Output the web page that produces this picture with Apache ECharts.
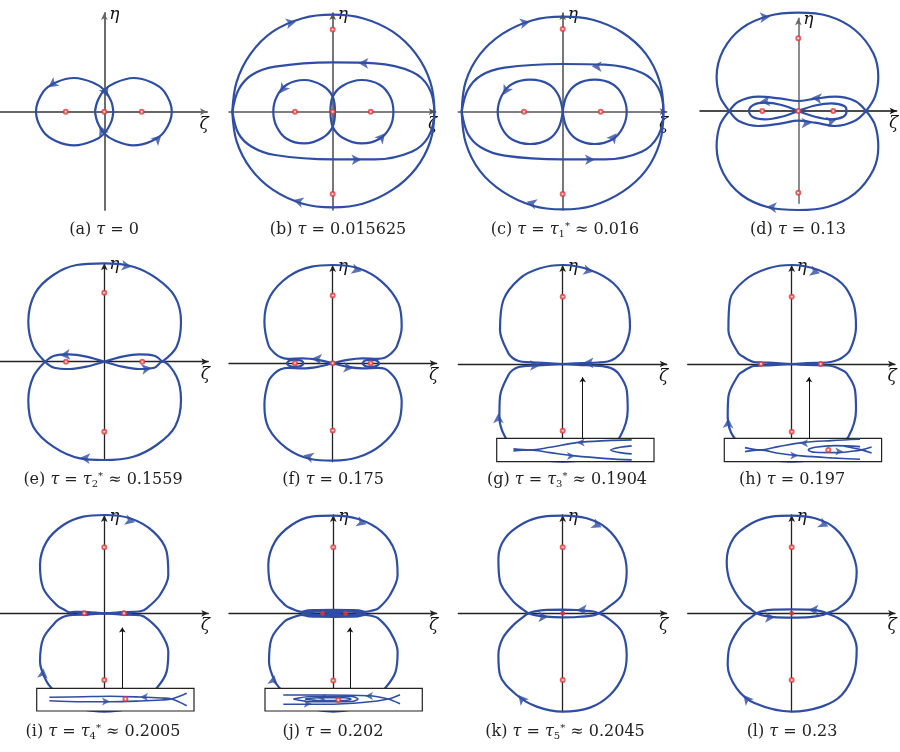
<!DOCTYPE html>
<html>
<head>
<meta charset="utf-8"/>
<title>相图 τ</title>
<script src="https://cdn.jsdelivr.net/npm/echarts@6/dist/echarts.min.js"></script>
<style>html,body{margin:0;background:#fff}#main{width:900px;height:752px}</style>
</head>
<body>
<div id="main"></div>
<script>
// 数据单位：相对原点的像素偏移 (y 向上)
// (a)
var aLeftLoop = [[9,0],[7,10],[0,21.7],[-11,29],[-30,33.7],[-48,29.5],[-61,20],[-68.3,0],[-61,-20],[-48,-29.5],[-30,-33.7],[-11,-29],[0,-21.7],[7,-10],[9,0]];
var aRightLoop = [[-9.3,0],[-7,10],[0,21.7],[11,29],[29,33.7],[47,29.5],[60,20],[67.5,0],[60,-20],[47,-29.5],[29,-33.7],[11,-29],[0,-21.7],[-7,-10],[-9.3,0]];
var aArrows = [[-56,24.5,215],[3.5,15,-65],[-4.5,-14,115],[57,-23.5,45]];
var aDots = [[-38.6,0],[0,0],[37.4,0]];
// (b)
var bOuter = [[-100.4,0],[-96,30],[-82,58],[-60,80],[-30,93.5],[0,97],[30,93.5],[60,80],[83,58],[97.5,30],[101.6,0],[97.5,-30],[83,-57],[60,-78],[30,-92],[0,-95.6],[-30,-92],[-60,-78],[-82,-57],[-96,-30],[-100.4,0]];
var bMiddle = [[-100.3,0],[-94.3,21.7],[-81,36.7],[-57.7,45],[0,49.3],[42.3,48.3],[79,40],[95.7,25],[101.6,0],[95.7,-25],[79,-40],[42.3,-47.7],[0,-47.7],[-57.7,-43.3],[-81,-35],[-94.3,-21.7],[-100.3,0]];
var bLeftLoop = [[2.3,0],[0,15],[-10,26],[-28.5,31.7],[-46,27],[-56,15],[-59.4,0],[-56,-15],[-46,-27],[-28.5,-31.7],[-10,-26],[0,-15],[2.3,0]];
var bRightLoop = [[-2.3,0],[0,15],[10,26],[29,31.7],[47,27],[57.5,15],[60.7,0],[57.5,-15],[47,-27],[29,-31.7],[10,-26],[0,-15],[-2.3,0]];
var bArrows = [[-36.7,90,12],[25.6,48.6,178],[-52.7,18.4,235],[52.3,-21.6,50],[28.9,-47.7,2],[-39.4,-88.3,165]];
var bDots = [[-37.7,0],[0,0],[38,0],[0,82.3],[0,-82.3]];
// (c)
var cOuter = [[-101,0],[-97,30],[-83,57],[-60,78],[-30,91.5],[0,95],[30,92],[60,79],[83,58],[97,30],[100.7,0],[97,-31],[83,-59],[60,-80],[30,-94],[0,-97.7],[-30,-94],[-60,-80],[-83,-59],[-97,-31],[-101,0]];
var cMiddle = [[-101,0],[-95,21.7],[-82,36],[-58,44],[0,47.7],[42,47],[79,39],[95.5,24],[100.7,0],[95.5,-24],[79,-40],[42,-47.7],[0,-47.7],[-58,-44],[-82,-35.5],[-95,-21.7],[-101,0]];
var cLeftLoop = [[0,0],[-4,16],[-14,27.5],[-32.5,32],[-51,27.5],[-61,16],[-65,0],[-61,-16],[-51,-27.5],[-32.5,-32.3],[-14,-27.5],[-4,-16],[0,0]];
var cRightLoop = [[0,0],[4,16],[14,27.5],[32,32],[50,27.5],[60,16],[64,0],[60,-16],[50,-27.5],[32,-32.3],[14,-27.5],[4,-16],[0,0]];
var cArrows = [[-32.7,90,12],[29,45.5,178],[-59.4,16.7,240],[54,-21.6,52],[32.3,-47.7,2],[-36,-90,165]];
var cDots = [[-38.7,0],[38,0],[0,82.7],[0,-82.3]];
// (d)
var dUpperLoop = [[67.8,0],[76.7,14.3],[80,34.3],[75,57.7],[56.7,81],[30,95],[0,98.3],[-30,95],[-56.7,82.7],[-75,61],[-81.7,34.3],[-78.3,14.3],[-69,0],[-60,-9.7],[-40,-15],[-16.7,-12.3],[0,-9.7],[16.7,-11.7],[36.7,-15],[56.7,-9.7],[67.8,0]];
var dLowerLoop = [[-69,0],[-78.3,-14],[-81.7,-35.7],[-75,-62.3],[-56.7,-84],[-30,-96.3],[0,-99],[30,-95.7],[56.7,-82.3],[75,-59],[80,-35.7],[76.7,-14],[67.8,0],[56.7,10],[36.7,14.3],[16.7,12.3],[0,10],[-16.7,12.3],[-40,14.3],[-60,9.3],[-69,0]];
var dFigure8 = [[0,0],[-16.7,6],[-33.3,8.3],[-45,6],[-49.3,0],[-45,-6.3],[-33.3,-8.3],[-16.7,-5.7],[0,0],[16.7,5.5],[33.3,7.7],[46,5],[48.3,0],[45,-5.7],[33.3,-8.3],[16.7,-5.7],[0,0]];
var dArrows = [[-28.3,94.3,5],[13.3,13.3,175],[-38.3,9.3,185],[38.3,-8.5,15],[13.3,-12,0],[-31.7,-95.7,175]];
var dDots = [[-36,0],[0,0],[35,0],[0,72.7],[0,-81.7]];
// (e)
var eUpperLoop = [[58,0],[72.3,15],[76.7,40],[70.7,65],[52.3,83.3],[29,95],[0,98.3],[-27.7,96.7],[-51,86.7],[-69.3,68.3],[-76,40],[-71,15],[-59.3,0],[-50,-6],[-35,-7.3],[-18,-5],[0,0],[18,5],[35,7.3],[50,6],[58,0]];
var eLowerLoop = [[-59.3,0],[-71,-15],[-76,-38.3],[-71,-65],[-51,-85],[-24.3,-96.7],[0,-98.3],[29,-95],[52.3,-83.3],[70.7,-65],[76.7,-38.3],[72.3,-15],[58,0],[50,-6],[35,-7.3],[18,-5],[0,0],[-18,5],[-35,7.3],[-50,6],[-59.3,0]];
var eArrows = [[27.3,95,-8],[-44.3,6.5,185],[47.3,-6,10],[-24.3,-96,175]];
var eDots = [[-38.3,0],[38,0],[0,69],[0,-70]];
// (f)
var fUpperLoop = [[0,0],[-15,3.5],[-30,5],[-45,4.5],[-52,6],[-58,10],[-64.3,18.3],[-68.3,41.7],[-62.7,66.7],[-44.3,86.7],[-21,96.7],[0,98.3],[25.7,95],[49,81.7],[65.7,60],[69,36.7],[64,16.7],[58,9.5],[52,5.5],[45,4.5],[30,5],[15,3.5],[0,0]];
var fLowerLoop = [[0,0],[-15,-3.5],[-30,-5],[-45,-4.5],[-52,-6],[-58,-10],[-64.3,-18.3],[-68.3,-41.7],[-64,-65],[-46,-85],[-22,-95.7],[0,-97.3],[25,-94],[48,-82],[65,-62],[69,-38],[64,-18],[58,-10],[52,-5.5],[45,-4.5],[30,-5],[15,-3.5],[0,0]];
var fLeftCycle = [[-46,0],[-43,2.8],[-37.7,3.5],[-32,2.8],[-29.4,0],[-32,-2.8],[-37.7,-3.5],[-43,-2.8],[-46,0]];
var fRightCycle = [[29.7,0],[32.5,2.8],[38,3.5],[43.5,2.8],[46.3,0],[43.5,-2.8],[38,-3.5],[32.5,-2.8],[29.7,0]];
var fArrows = [[29,92,-15],[-21,4.8,175],[20.7,-4.8,-5],[-29.3,-92,165]];
var fDots = [[-37.7,0],[0,0],[38,0],[0,67.7],[0,-67.3]];
// (g)
var gUpperLoop = [[0,0],[-20,1.2],[-35,1.8],[-44,3],[-50,6],[-54.3,10.7],[-62.7,34],[-59.3,64],[-42.7,85.7],[-22.7,95.7],[0,99],[27.3,94],[50.7,80.7],[64,60.7],[67.3,37.3],[60.7,14],[52,5.5],[45,2.5],[35,1.5],[20,1],[0,0]];
var gLowerLoop = [[0,0],[-20,-1.2],[-35,-1.8],[-44,-3],[-50,-6],[-54.3,-11],[-62.7,-32.7],[-63.3,-52.7],[-57.7,-72.7],[-42.7,-89.3],[-20,-96],[0,-97.7],[20,-96],[40.7,-89.3],[57.3,-72.7],[65,-46],[64,-26],[55.7,-9.3],[48,-4],[40,-2.2],[30,-1.5],[15,-1],[0,0]];
var gArrows = [[30.7,92.3,-12],[20.7,1.2,180],[-22.7,-1.4,0],[-64.3,-49.3,90]];
var gDots = [[0,67.3],[0,-66.7]];
var gPointer = [[20,-74.3],[20,-13.3]];
var gInsetUpper = [[16.7,12.7],[33.3,11.7],[53.3,14.3],[80,19],[110,21],[135,21.7]];
var gInsetLower = [[16.7,10.7],[33.3,11.7],[53.3,9],[78.3,5.7],[110,3],[135,1.7]];
var gInsetCusp = [[135,15.7],[123.3,14.3],[114,11.7],[123.3,9],[135,7.7]];
var gInsetArrows = [[80,19,180],[78.3,5.7,0]];
// (h)
var hUpperLoop = [[0,0],[-15,1],[-30,1.5],[-38,2],[-43,4],[-48,7],[-53.3,10.7],[-63.3,34],[-61.7,64],[-46.7,84],[-23.3,95.7],[0,99],[26.7,94],[50,80.7],[61.7,60.7],[64.3,37.3],[58.3,14],[50,6],[43,3],[35,1.5],[15,1],[0,0]];
var hLowerLoop = [[0,0],[-15,-1],[-30,-1.5],[-38,-2],[-43,-4],[-48,-7],[-53.3,-11],[-63.3,-32.7],[-64,-52.7],[-58.3,-72.7],[-40,-90],[-20,-96],[0,-97.7],[20,-96],[40,-90],[56.7,-72.7],[64.3,-46],[63.3,-26],[55,-9.3],[48,-5],[42,-2.5],[35,-1.5],[15,-1],[0,0]];
var hBlobL = [[-24,0],[-20,0.9],[-16,0],[-20,-0.9],[-24,0]];
var hBlobR = [[16,0],[20,0.9],[24,0],[20,-0.9],[16,0]];
var hArrows = [[28.3,90.7,-15],[-63.3,-54.3,88]];
var hDots = [[-30.7,0],[29,0],[0,67.3],[0,-67.7]];
var hPointer = [[17.3,-74.3],[17.3,-13.3]];
var hInsetUpper = [[20.7,14],[35.7,11.7],[54,15],[77.3,19],[107.3,21],[135.7,22.3]];
var hInsetLower = [[20.7,10],[35.7,11.7],[54,8.3],[77.3,5.7],[107.3,3.7],[135.7,2.3]];
var hInsetLoop = [[135.7,15],[110.7,16],[90.7,14.3],[84,11.7],[90.7,9.3],[110.7,9],[127.3,10.3],[137.3,11.7],[147.3,14.7]];
var hInsetTail = [[120,15.3],[137.3,11.7],[147.3,8.7]];
var hInsetArrows = [[75.7,18.3,180],[74,6,0],[119,10.1,0]];
var hInsetDots = [[104,11.7]];
// (i)
var iUpperLoop = [[0,0],[-15,1],[-25,1.5],[-30,1.5],[-34.3,1],[-40,3.5],[-47.7,8.3],[-61,25],[-64.3,48.3],[-57.7,71.7],[-41,88.3],[-21,96.7],[0,98.3],[25.7,95],[49,81.7],[62.3,61.7],[64,38.3],[55.7,18.3],[42.3,5],[36,2],[30,1.5],[15,1],[0,0]];
var iLowerLoop = [[0,0],[-15,-1],[-30,-1.5],[-36,-2],[-42,-4],[-47.7,-7.7],[-61,-25],[-64.3,-48.3],[-57.7,-68.3],[-48,-80],[-37.7,-90],[-20,-96.5],[0,-98.3],[20,-96.5],[35.7,-90],[52.3,-75],[62.3,-58.3],[64,-38.3],[55.7,-18.3],[42.3,-5],[36,-2],[30,-1.5],[15,-1],[0,0]];
var iBlobL = [[-27,0],[-20,1.4],[-13,0],[-20,-1.4],[-27,0]];
var iBlobR = [[13,0],[19.7,1.4],[26.5,0],[19.7,-1.4],[13,0]];
var iArrows = [[30.7,91,-15],[-61,-55,85]];
var iDots = [[-20,0],[19.7,0],[0,66],[0,-66.7]];
var iPointer = [[18,-75],[18,-14.3]];
var iInsetUpper = [[12.7,13.7],[46.7,14.3],[73.3,14.7],[103.3,14],[125,13],[135,12],[150,5.3]];
var iInsetLower = [[12.7,10.3],[46.7,9.3],[73.3,9.3],[103.3,10],[125,11],[135,12],[150,17.7]];
var iInsetArrows = [[73.3,9.4,0],[103.3,14,180]];
var iInsetDots = [[88.7,12]];
// (j)
var jUpperLoop = [[0,0],[-15,2.5],[-25,3],[-31.7,1.5],[-40,4],[-48.3,8.3],[-61.7,25],[-65,48.3],[-58.3,71.7],[-41.7,88.3],[-21.7,96.7],[0,97.7],[25,94.3],[48.3,81.7],[61.7,61.7],[64.3,38.3],[56.7,18.3],[45,5],[38,2.5],[31.7,1.5],[25,3],[15,2.5],[0,0]];
var jLowerLoop = [[0,0],[-15,-2.5],[-25,-3],[-31.7,-1.5],[-40,-4],[-48.3,-7.7],[-61.7,-25],[-64.3,-48.3],[-58.3,-68.3],[-50,-78.3],[-35,-90],[-18,-96.5],[0,-98.3],[18,-96.5],[35,-90],[51.7,-75],[62.3,-58.3],[64.3,-38.3],[56.7,-18.3],[45,-5],[38,-2.5],[31.7,-1.5],[25,-3],[15,-2.5],[0,0]];
var jLensOuter = [[-31.7,0],[-20,3.2],[0,3.5],[20,3.2],[31.7,0],[20,-3.2],[0,-3.5],[-20,-3.2],[-31.7,0]];
var jLensInner = [[-28,0],[-18,1.6],[0,1.8],[18,1.6],[28,0],[18,-1.6],[0,-1.8],[-18,-1.6],[-28,0]];
var jArrows = [[33.3,89,-18],[-59,-61.7,80]];
var jDots = [[0,66],[0,-67.3]];
var jFilledDots = [[-10.7,0],[12.3,0]];
var jPointer = [[16.7,-75],[16.7,-14.3]];
var jInsetUpper = [[18.3,16],[60,16],[103.3,15.3],[123.3,12],[135,7.3]];
var jInsetLower = [[18.3,6.7],[60,6.7],[100,8.7],[123.3,12],[135,16.3]];
var jInsetLoop1 = [[28.3,12],[46.7,14.5],[86.7,14.5],[93,12],[86.7,9.5],[46.7,9.2],[28.3,12]];
var jInsetLoop2 = [[40,12],[55,13.2],[80,13.2],[86,11.8],[80,10.5],[55,10.5],[40,12]];
var jInsetArrows = [[100,15,180],[46.7,7.2,0],[53,13.1,180]];
var jInsetDots = [[73.3,11]];
// (k)
var kUpperLoop = [[0,-4],[-16,-3.3],[-28,-1.8],[-34.3,0],[-40,4],[-49.3,11.7],[-62.7,31.7],[-64.3,55],[-57.7,75],[-39.3,90],[-19.3,96.7],[0,97.7],[24,95],[44,85],[59,65],[64,41.7],[59,18.3],[44,5],[36,0],[30.7,-2],[14,-3.7],[0,-4]];
var kLowerLoop = [[0,3.7],[-16,3.5],[-28,2],[-34.3,0],[-40,-4],[-49.3,-11.7],[-60,-25],[-64.3,-41.7],[-62.7,-61.7],[-46,-81.7],[-26,-93.3],[0,-98.3],[27.3,-94.3],[47.3,-81.7],[60.7,-61.7],[64,-41.7],[59,-18.3],[44,-4],[36,0],[30.7,1.8],[14,3.3],[0,3.7]];
var kArrows = [[39,86,-25],[14,3.4,180],[-14.3,-3.5,0],[-44.3,-81.7,130]];
var kDots = [[0,66],[0,-66.7]];
var kFilledDots = [[0,0]];
// (l)
var lUpperLoop = [[0,-4.3],[-18,-3.8],[-30,-2],[-35,0],[-40,3.5],[-50,11.7],[-61.7,31.7],[-65,51.7],[-58.3,75],[-40,90],[-20,96.7],[0,97.7],[23.3,95],[43.3,85],[58.3,65],[65,41.7],[60,18.3],[46.7,5],[35,0],[30,-2],[18,-3.8],[0,-4.3]];
var lLowerLoop = [[0,4],[-18,3.6],[-30,2],[-35,0],[-40,-3.5],[-50,-11.7],[-61.7,-31.7],[-64,-51.7],[-55,-75],[-36.7,-90],[0,-98.3],[30,-93.3],[50,-81.7],[62.7,-58.3],[65,-35],[56.7,-13.3],[46.7,-5],[35,0],[30,2],[18,3.6],[0,4]];
var lArrows = [[36.7,86.7,-25],[16.7,3.2,180],[-16.7,-4,0],[-48.3,-81.7,130]];
var lDots = [[0,66],[0,-66.7]];
var lFilledDots = [[0,0]];

var captions = [
    '(a) {i|τ} = 0', '(b) {i|τ} = 0.015625', '(c) {i|τ} = {i|τ}{sub|1}{sup|*} ≈ 0.016', '(d) {i|τ} = 0.13',
    '(e) {i|τ} = {i|τ}{sub|2}{sup|*} ≈ 0.1559', '(f) {i|τ} = 0.175', '(g) {i|τ} = {i|τ}{sub|3}{sup|*} ≈ 0.1904', '(h) {i|τ} = 0.197',
    '(i) {i|τ} = {i|τ}{sub|4}{sup|*} ≈ 0.2005', '(j) {i|τ} = 0.202', '(k) {i|τ} = {i|τ}{sub|5}{sup|*} ≈ 0.2045', '(l) {i|τ} = 0.23'
];

var BLUE = '#2f4ea3', RED = '#e0393b';

// 布局：原点、坐标轴两端（像素）
var panels = [
    {ox: 104.3, oy: 111.7, xL: 0, xR: 207, yT: 13, yB: 210, ax: '#666', ay: '#666', aw: 1.9, cap: [104, 230],
        curves: [aLeftLoop, aRightLoop], arrows: aArrows, dots: aDots},
    {ox: 332.7, oy: 111.7, xL: 229, xR: 435.7, yT: 13, yB: 210, ax: '#555', ay: '#555', aw: 1.6, cap: [338, 230],
        curves: [bOuter, bMiddle, bLeftLoop, bRightLoop], arrows: bArrows, dots: bDots},
    {ox: 562.7, oy: 111.7, xL: 458.3, xR: 666.7, yT: 13, yB: 210, ax: '#555', ay: '#555', aw: 1.6, cap: [565, 230],
        curves: [cOuter, cMiddle, cLeftLoop, cRightLoop], arrows: cArrows, dots: cDots},
    {ox: 798.3, oy: 111, xL: 700, xR: 896.7, yT: 18.3, yB: 203.3, ax: '#111', ay: '#666', aw: 1.5, cap: [798, 230],
        curves: [dUpperLoop, dLowerLoop, dFigure8], arrows: dArrows, dots: dDots},
    {ox: 104.3, oy: 361.7, xL: 0, xR: 208.3, yT: 263.3, yB: 460, ax: '#222', ay: '#222', aw: 1.3, cap: [103, 480],
        curves: [eUpperLoop, eLowerLoop], arrows: eArrows, dots: eDots},
    {ox: 332.7, oy: 363.3, xL: 229, xR: 436.7, yT: 265, yB: 461.7, ax: '#222', ay: '#222', aw: 1.3, cap: [333, 480],
        curves: [fUpperLoop, fLowerLoop, fLeftCycle, fRightCycle], arrows: fArrows, dots: fDots},
    {ox: 562.7, oy: 364, xL: 458.3, xR: 666.7, yT: 265, yB: 438.3, ax: '#222', ay: '#222', aw: 1.3, cap: [567, 480],
        curves: [gUpperLoop, gLowerLoop], arrows: gArrows, dots: gDots, pointer: gPointer,
        inset: {x: 496.7, y: 438.3, w: 157.3, h: 23.3, curves: [gInsetUpper, gInsetLower, gInsetCusp], arrows: gInsetArrows, dots: []}},
    {ox: 791.7, oy: 364, xL: 687.7, xR: 895, yT: 265, yB: 438.3, ax: '#222', ay: '#222', aw: 1.3, cap: [792, 480],
        curves: [hUpperLoop, hLowerLoop, hBlobL, hBlobR], arrows: hArrows, dots: hDots, pointer: hPointer,
        inset: {x: 724.3, y: 438.3, w: 157.3, h: 23.3, curves: [hInsetUpper, hInsetLower, hInsetLoop, hInsetTail], arrows: hInsetArrows, dots: hInsetDots}},
    {ox: 104.3, oy: 613.3, xL: 0, xR: 208.3, yT: 515, yB: 688.3, ax: '#222', ay: '#222', aw: 1.3, cap: [103, 732],
        curves: [iUpperLoop, iLowerLoop, iBlobL, iBlobR], arrows: iArrows, dots: iDots, pointer: iPointer,
        inset: {x: 36.7, y: 688.3, w: 157.3, h: 22.7, curves: [iInsetUpper, iInsetLower], arrows: iInsetArrows, dots: iInsetDots}},
    {ox: 333.3, oy: 613.3, xL: 229, xR: 436.7, yT: 515, yB: 688.3, ax: '#222', ay: '#222', aw: 1.3, cap: [333, 732],
        curves: [jUpperLoop, jLowerLoop, jLensOuter, jLensInner], arrows: jArrows, dots: jDots, filled: jFilledDots, pointer: jPointer,
        inset: {x: 265, y: 688.3, w: 157.3, h: 22.7, curves: [jInsetUpper, jInsetLower, jInsetLoop1, jInsetLoop2], arrows: jInsetArrows, dots: jInsetDots}},
    {ox: 562.7, oy: 613.3, xL: 458.3, xR: 666.7, yT: 515, yB: 711.7, ax: '#222', ay: '#222', aw: 1.3, cap: [565, 732],
        curves: [kUpperLoop, kLowerLoop], arrows: kArrows, dots: kDots, filled: kFilledDots},
    {ox: 791.7, oy: 613.3, xL: 687.7, xR: 895, yT: 515, yB: 711.7, ax: '#222', ay: '#222', aw: 1.3, cap: [792, 732],
        curves: [lUpperLoop, lLowerLoop], arrows: lArrows, dots: lDots, filled: lFilledDots}
];

var chart = echarts.init(document.getElementById('main'));
var option = {animation: false, backgroundColor: '#fff', grid: [], xAxis: [], yAxis: [], series: [], graphic: []};

function curveSeries(data, gi, z) {
    return {type: 'line', xAxisIndex: gi, yAxisIndex: gi, data: data, smooth: 0.35, showSymbol: false, symbol: 'none',
        clip: false, silent: true, z: z, lineStyle: {color: BLUE, width: 2.2}};
}
function arrowSeries(list, gi, z) {
    return {type: 'scatter', xAxisIndex: gi, yAxisIndex: gi, symbol: 'arrow', symbolSize: [8, 10], clip: false, silent: true, z: z,
        itemStyle: {color: BLUE},
        data: list.map(function (a) { return {value: [a[0], a[1]], symbolRotate: a[2] - 90}; })};
}
function dotSeries(list, gi, z, filled) {
    return {type: 'scatter', xAxisIndex: gi, yAxisIndex: gi, symbol: filled ? 'circle' : 'emptyCircle', symbolSize: 4,
        clip: false, silent: true, z: z, itemStyle: {color: RED, borderColor: RED, borderWidth: 1}, data: list};
}
function axisLine(color, width) {
    return {onZero: true, symbol: ['none', 'arrow'], symbolSize: [5, 7], lineStyle: {color: color, width: width}};
}
var nameStyle = {fontFamily: 'DejaVu Serif', fontStyle: 'italic', fontSize: 17, color: '#111'};

panels.forEach(function (p, k) {
    var gi = option.grid.length;
    option.grid.push({left: p.xL, top: p.yT, width: p.xR - p.xL, height: p.yB - p.yT});
    option.xAxis.push({gridIndex: gi, type: 'value', min: p.xL - p.ox, max: p.xR - p.ox,
        axisLine: axisLine(p.ax, p.aw), axisTick: {show: false}, axisLabel: {show: false}, splitLine: {show: false},
        name: 'ζ', nameLocation: 'end', nameGap: -3,
        nameTextStyle: Object.assign({align: 'center', verticalAlign: 'top', padding: [4, 0, 0, 0]}, nameStyle)});
    option.yAxis.push({gridIndex: gi, type: 'value', min: p.oy - p.yB, max: p.oy - p.yT,
        axisLine: axisLine(p.ay, p.aw), axisTick: {show: false}, axisLabel: {show: false}, splitLine: {show: false},
        name: 'η', nameLocation: 'end', nameGap: -10,
        nameTextStyle: Object.assign({align: 'left', verticalAlign: 'bottom', padding: [0, 0, 0, 5]}, nameStyle)});

    p.curves.forEach(function (c) { option.series.push(curveSeries(c, gi, 2)); });
    option.series.push(arrowSeries(p.arrows, gi, 3));
    option.series.push(dotSeries(p.dots, gi, 4, false));
    if (p.filled) option.series.push(dotSeries(p.filled, gi, 4, true));
    if (p.pointer) {
        option.series.push({type: 'lines', coordinateSystem: 'cartesian2d', xAxisIndex: gi, yAxisIndex: gi, silent: true, z: 3,
            symbol: ['none', 'arrow'], symbolSize: 5, lineStyle: {color: '#111', width: 1, opacity: 1},
            data: [{coords: p.pointer}]});
    }
    if (p.inset) {
        var s = p.inset, ii = option.grid.length;
        option.grid.push({left: s.x, top: s.y, width: s.w, height: s.h, show: true, z: 5,
            backgroundColor: '#fff', borderColor: '#222', borderWidth: 1.2});
        option.xAxis.push({gridIndex: ii, type: 'value', min: 0, max: s.w, show: false});
        option.yAxis.push({gridIndex: ii, type: 'value', min: 0, max: s.h, show: false});
        s.curves.forEach(function (c) {
            var cs = curveSeries(c, ii, 6);
            cs.lineStyle.width = 1.6;
            option.series.push(cs);
        });
        var as = arrowSeries(s.arrows, ii, 7);
        as.symbolSize = [6, 8];
        option.series.push(as);
        if (s.dots.length) option.series.push(dotSeries(s.dots, ii, 8, false));
    }

    option.graphic.push({type: 'text', x: p.cap[0], y: p.cap[1], silent: true,
        style: {text: captions[k], fill: '#222', fontFamily: 'DejaVu Serif', fontSize: 16, align: 'center', verticalAlign: 'middle',
            rich: {
                i: {fontFamily: 'DejaVu Serif', fontStyle: 'italic', fontSize: 16, fill: '#222'},
                sub: {fontFamily: 'DejaVu Serif', fontSize: 10, fill: '#222', padding: [9, 0, 0, 0]},
                sup: {fontFamily: 'DejaVu Serif', fontSize: 10, fill: '#222', padding: [0, 0, 8, 0]}
            }}});
});

chart.setOption(option);
window.onresize = function () {
    chart.resize();
};
</script>
</body>
</html>
